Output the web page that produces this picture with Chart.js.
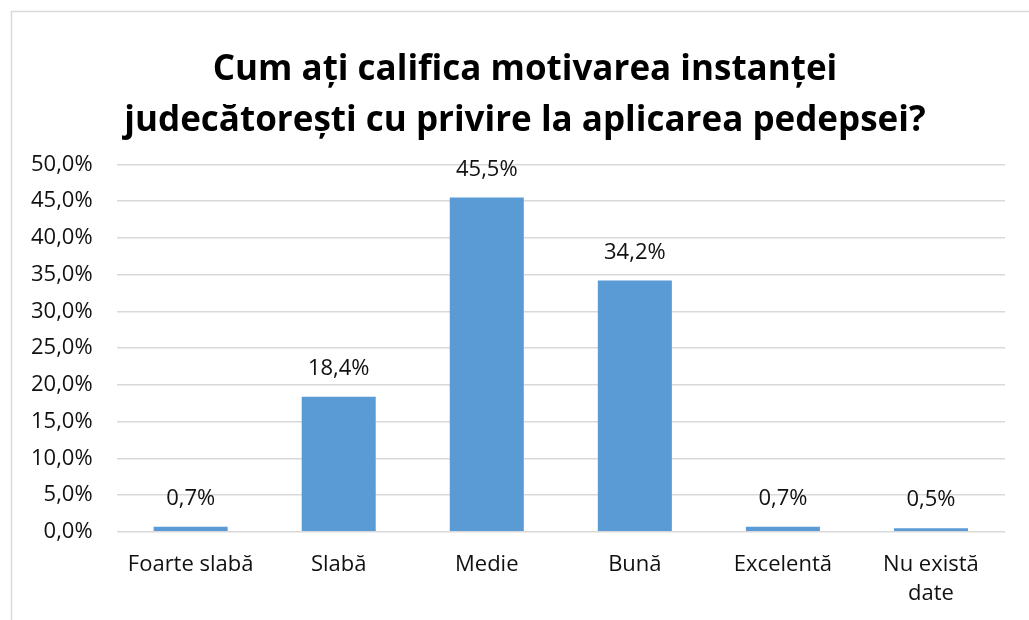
<!DOCTYPE html>
<html>
<head>
<meta charset="utf-8">
<script src="https://cdn.jsdelivr.net/npm/chart.js@4"></script>
<style>
  html, body { margin: 0; padding: 0; background: #fff; }
  #wrap { width: 1029px; height: 620px; position: relative; }
</style>
</head>
<body>
<div id="wrap"><canvas id="grafic"></canvas></div>
<script>
const titlu = ['Cum ați califica motivarea instanței', 'judecătorești cu privire la aplicarea pedepsei?'];
const categorii = ['Foarte slabă', 'Slabă', 'Medie', 'Bună', 'Excelentă', ['Nu există', 'date']];
const procente = [0.7, 18.4, 45.5, 34.2, 0.7, 0.5];

const formatProcent = v => v.toFixed(1).replace('.', ',') + '%';

// chenarul gri din jurul graficului + titlul putin mai la dreapta (ca in original)
const chenar = {
    id: 'chenar',
    afterLayout(chart) {
        chart.titleBlock.left += 38;
    },
    beforeDraw(chart) {
        const ctx = chart.ctx;
        ctx.save();
        ctx.strokeStyle = '#d9d9d9';
        ctx.lineWidth = 1.5;
        ctx.strokeRect(11.5, 11.5, 1100, 700);
        ctx.restore();
    }
};

// etichetele de valori deasupra barelor
const etichete = {
    id: 'etichete',
    afterDatasetsDraw(chart) {
        const ctx = chart.ctx;
        const meta = chart.getDatasetMeta(0);
        ctx.save();
        ctx.font = '22px "Open Sans"';
        ctx.fillStyle = '#111';
        ctx.textAlign = 'center';
        ctx.textBaseline = 'middle';
        meta.data.forEach((bar, i) => {
            ctx.fillText(formatProcent(procente[i]), bar.x, bar.y - 28);
        });
        ctx.restore();
    }
};

new Chart(document.getElementById('grafic'), {
    type: 'bar',
    data: {
        labels: categorii,
        datasets: [{
            data: procente,
            backgroundColor: '#5b9bd5',
            barPercentage: 0.5,
            categoryPercentage: 1
        }]
    },
    options: {
        responsive: true,
        maintainAspectRatio: false,
        animation: false,
        layout: { padding: { left: 7, right: 24, top: 45, bottom: -7 } },
        plugins: {
            legend: { display: false },
            tooltip: { enabled: false },
            title: {
                display: true,
                text: titlu,
                color: '#000',
                font: { family: 'Open Sans', size: 35, weight: 'bold', lineHeight: 1.45 },
                padding: { top: 0, bottom: 18 }
            }
        },
        scales: {
            x: {
                grid: { display: false, drawTicks: false },
                border: { display: false },
                ticks: {
                    color: '#111',
                    font: { family: 'Open Sans', size: 22, lineHeight: 1.3 },
                    padding: 19,
                    maxRotation: 0
                }
            },
            y: {
                min: 0,
                max: 50,
                grid: { color: '#d9d9d9', lineWidth: 1.5, drawTicks: false },
                border: { display: false },
                ticks: {
                    stepSize: 5,
                    color: '#111',
                    font: { family: 'Open Sans', size: 22 },
                    padding: 24,
                    callback: v => formatProcent(v)
                }
            }
        }
    },
    plugins: [chenar, etichete]
});
</script>
</body>
</html>
